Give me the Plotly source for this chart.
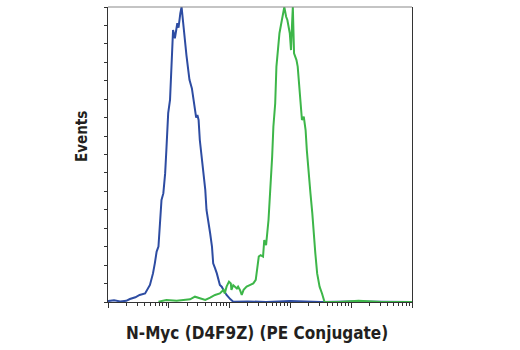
import plotly.graph_objects as go

# Blue histogram (control): log10 intensity and relative event count
blue_log = [0.00, 0.10, 0.20, 0.30, 0.36, 0.45, 0.52, 0.61, 0.69, 0.74, 0.77, 0.80, 0.83, 0.86, 0.88,
            0.91, 0.94, 0.96, 0.99, 1.02, 1.03, 1.06, 1.07, 1.10, 1.12, 1.14, 1.16, 1.17, 1.19,
            1.21, 1.23, 1.25, 1.27, 1.29, 1.32, 1.34, 1.38, 1.39, 1.41, 1.43, 1.45, 1.47, 1.49,
            1.51, 1.54, 1.57, 1.60, 1.62, 1.65, 1.68, 1.71, 1.73, 1.76, 1.79, 1.84, 1.87, 1.90,
            1.95, 2.01, 2.06, 2.30, 2.60, 3.00, 3.50, 4.00, 4.50, 5.00]
blue_cnt = [0.3, 0.6, 0.2, 0.4, 1.0, 1.6, 2.4, 2.9, 5.8, 9.7, 13.1, 17.1, 18.8, 27.8, 34.6,
            36.8, 43.6, 51.5, 64.0, 68.5, 74.1, 91.1, 92.2, 89.4, 92.8, 94.5, 93.0, 95.5, 97.9,
            100.0, 95.6, 93.3, 88.8, 83.7, 78.6, 75.3, 72.4, 70.7, 68.5, 65.1, 62.5, 63.4, 61.7,
            54.9, 49.3, 44.7, 38.0, 31.2, 27.8, 23.3, 18.8, 13.1, 11.5, 9.7, 5.8, 5.2, 4.1,
            2.4, 1.0, 0.1, 0.2, 0.0, 0.3, 0.0, 0.2, 0.0, 0.0]

# Green histogram (N-Myc PE): log10 intensity and relative event count
green_log = [0.83, 0.96, 1.13, 1.35, 1.43, 1.51, 1.60, 1.68, 1.76, 1.84, 1.90, 1.92, 1.95, 1.99,
             2.02, 2.03, 2.06, 2.12, 2.14, 2.17, 2.20, 2.23, 2.28, 2.34, 2.39, 2.43, 2.46, 2.48,
             2.51, 2.55, 2.57, 2.60, 2.64, 2.67, 2.70, 2.72, 2.75, 2.77, 2.79, 2.82, 2.86, 2.89,
             2.90, 2.93, 2.95, 2.99, 3.01, 3.03, 3.04, 3.06, 3.10, 3.12, 3.15, 3.17, 3.19, 3.22,
             3.25, 3.27, 3.30, 3.33, 3.36, 3.38, 3.41, 3.44, 3.48, 3.52, 3.56, 3.80, 4.12, 4.50, 5.00]
green_cnt = [0.1, 0.7, 0.4, 0.9, 1.8, 1.2, 0.7, 1.5, 2.4, 2.9, 4.1, 2.9, 5.2, 6.9,
             6.3, 4.1, 5.7, 4.6, 5.2, 4.1, 2.4, 4.1, 5.2, 5.8, 6.3, 7.5, 12.0, 15.4,
             15.9, 15.4, 21.0, 19.3, 27.8, 36.8, 49.3, 59.4, 67.3, 79.8, 85.4, 91.1, 95.6, 99.0,
             100.0, 96.7, 95.6, 91.1, 85.4, 95.6, 100.0, 84.3, 82.0, 79.8, 71.9, 64.0, 61.7, 62.8,
             58.3, 51.5, 42.5, 36.8, 30.1, 23.3, 16.5, 9.7, 5.2, 2.9, 0.1, 0.0, 0.4, 0.0, 0.0]

x_title = "N-Myc (D4F9Z) (PE Conjugate)"
y_title = "Events"

FONT = "DejaVu Sans Condensed, Liberation Sans Narrow, sans-serif"

fig = go.Figure()
fig.add_trace(go.Scatter(x=[10 ** v for v in blue_log], y=blue_cnt, mode="lines",
                         line=dict(color="#2D4CA2", width=2), hoverinfo="skip"))
fig.add_trace(go.Scatter(x=[10 ** v for v in green_log], y=green_cnt, mode="lines",
                         line=dict(color="#3DB649", width=2), hoverinfo="skip"))

fig.update_layout(
    width=520, height=350,
    margin=dict(l=108, r=108, t=7, b=48),
    paper_bgcolor="white", plot_bgcolor="white",
    showlegend=False,
    xaxis=dict(type="log", range=[0, 5], showgrid=False, zeroline=False,
               showline=True, linecolor="#333", linewidth=1.2, mirror=False,
               ticks="outside", ticklen=5, tickcolor="#333", dtick=1,
               showticklabels=False,
               minor=dict(ticks="outside", ticklen=3, tickcolor="#333", dtick="D1", showgrid=False)),
    yaxis=dict(range=[0, 100], showgrid=False, zeroline=False,
               showline=True, linecolor="#333", linewidth=1.2, mirror=True,
               ticks="outside", ticklen=3, tickcolor="#333", dtick=6.25,
               showticklabels=False),
)

fig.add_shape(type="line", xref="paper", yref="paper", x0=0, x1=1, y0=1, y1=1,
              line=dict(color="#8A8A8A", width=1.2))

fig.add_annotation(text="<b>" + x_title + "</b>", xref="paper", yref="paper",
                   x=0.49, y=-0.065, xanchor="center", yanchor="top", showarrow=False,
                   font=dict(family=FONT, size=17, color="#231F20"))
fig.add_annotation(text="<b>" + y_title + "</b>", xref="paper", yref="paper",
                   x=-0.085, y=0.56, xanchor="center", yanchor="middle", showarrow=False,
                   textangle=-90, font=dict(family=FONT, size=15, color="#231F20"))

fig.write_html("out.html")
